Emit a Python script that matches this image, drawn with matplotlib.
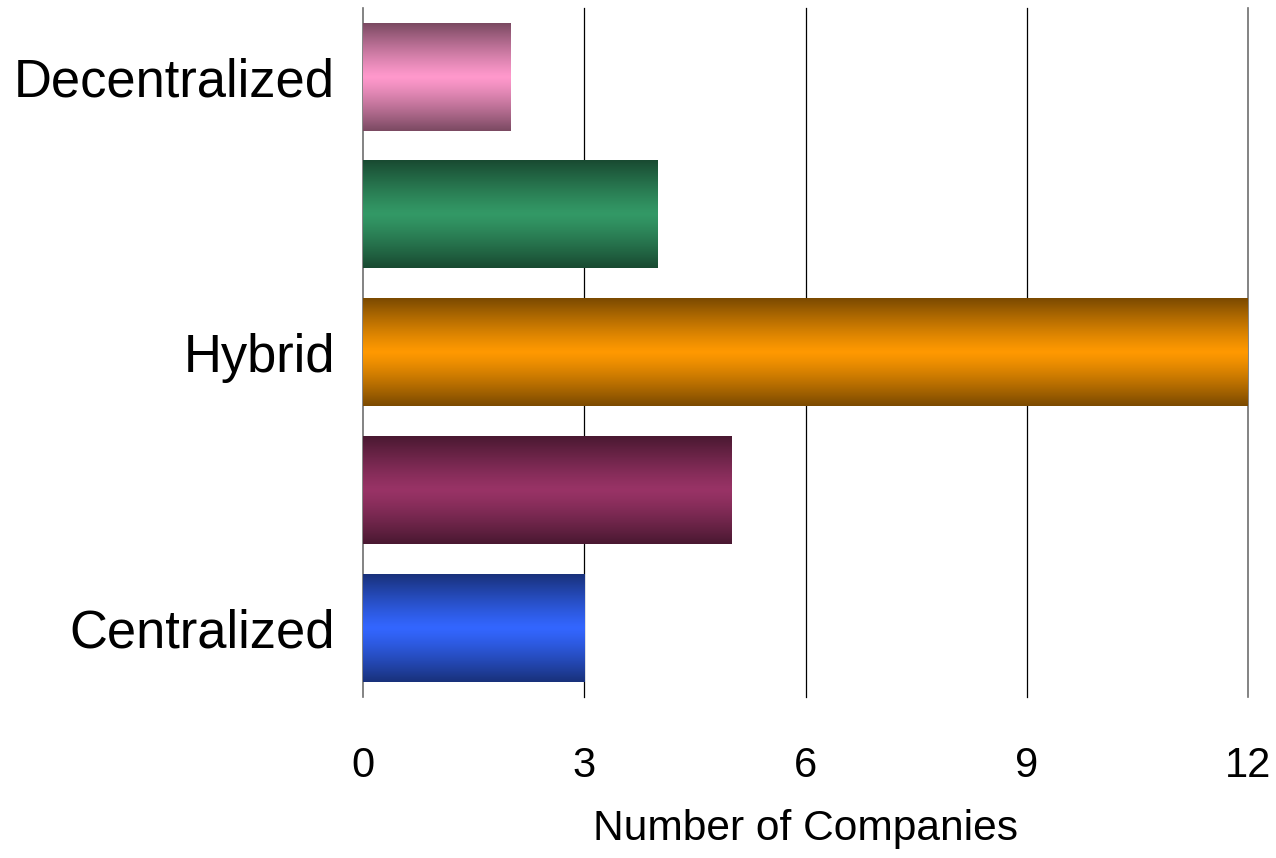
import numpy as np
import matplotlib
matplotlib.use("Agg")
import matplotlib.pyplot as plt
from matplotlib.colors import to_rgb

# Data (top to bottom as shown)
categories = ["Decentralized", "", "Hybrid", "", "Centralized"]
values = [2, 4, 12, 5, 3]
colors = ["#FF99CC", "#339966", "#FF9900", "#993366", "#3366FF"]
xticks = [0, 3, 6, 9, 12]
xlabel = "Number of Companies"

plt.rcParams["font.family"] = ["Liberation Sans", "DejaVu Sans"]

fig = plt.figure(figsize=(12.76, 8.58), dpi=100)
ax = fig.add_axes([363 / 1276, 161 / 858, 885 / 1276, 689 / 858])

n = len(categories)
ypos = np.arange(n)[::-1]  # first category at top
bars = ax.barh(ypos, values, height=0.78, color="none", edgecolor="none", zorder=3)

# gradient fill: dark at top/bottom edges, light in the middle
t = np.linspace(0, 1, 256)
factor = 1 - 0.52 * np.abs(2 * t - 1) ** 1.2
for bar, col in zip(bars, colors):
    rgb = np.array(to_rgb(col))
    img = (factor[:, None, None] * rgb[None, None, :])
    x0, y0 = bar.get_x(), bar.get_y()
    w, h = bar.get_width(), bar.get_height()
    ax.imshow(img, extent=[x0 - 0.03, x0 + w, y0, y0 + h], aspect="auto",
              interpolation="bilinear", zorder=3, origin="upper")

ax.set_xlim(0, 12)
ax.set_ylim(-0.5, n - 0.5)

for xv in xticks:
    ax.axvline(xv, color="#000000" if xv not in (0, 12) else "#6e6e6e",
               lw=0.9 if xv not in (0, 12) else 1.2, zorder=1, clip_on=False)

for s in ax.spines.values():
    s.set_visible(False)

ax.set_xticks(xticks)
ax.set_xticklabels([str(v) for v in xticks], fontsize=30)
ax.set_yticks(ypos)
ax.set_yticklabels(categories, fontsize=37.8)
ax.tick_params(axis="x", length=0, pad=35)
ax.tick_params(axis="y", length=0, pad=20)
ax.set_xlabel(xlabel, fontsize=30.6, labelpad=17)

fig.savefig("out.png", dpi=100, facecolor="white")
